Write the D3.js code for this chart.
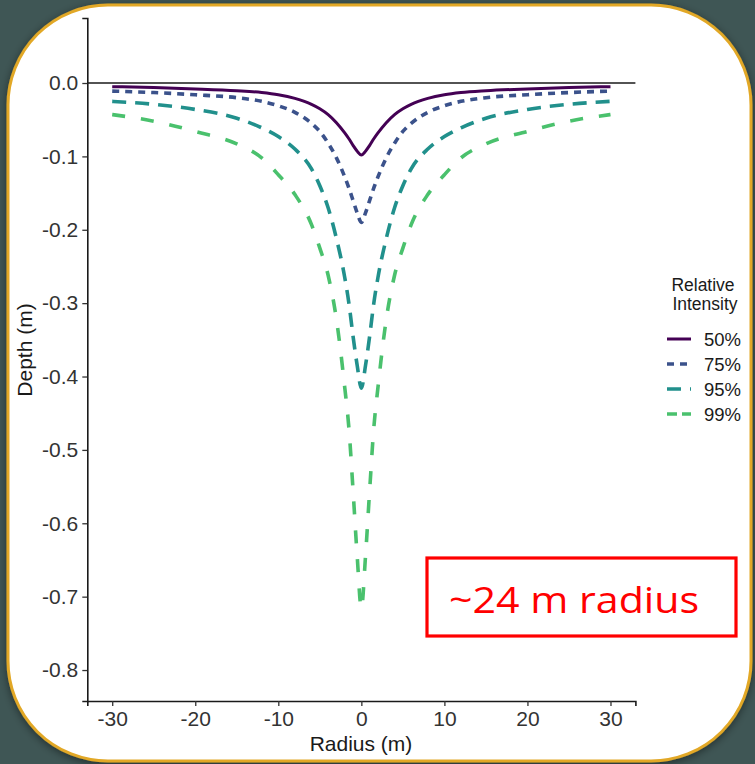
<!DOCTYPE html>
<html>
<head>
<meta charset="utf-8">
<script src="https://cdn.jsdelivr.net/npm/d3@7"></script>
<style>
  html, body { margin: 0; padding: 0; background: #3f5655; }
  svg { display: block; }
</style>
</head>
<body>
<svg id="chart" width="755" height="764"></svg>
<script>
// ---- data ----
const radius = [-30,-25,-20,-15,-12,-10,-8,-6,-5,-4,-3,-2,-1.5,-1,-0.5,0,0.5,1,1.5,2,3,4,5,6,8,10,12,15,20,25,30];
const depth50 = [-0.005,-0.0062,-0.008,-0.0105,-0.013,-0.016,-0.021,-0.029,-0.035,-0.043,-0.054,-0.068,-0.076,-0.085,-0.093,-0.098,-0.093,-0.085,-0.076,-0.068,-0.054,-0.043,-0.035,-0.029,-0.021,-0.016,-0.013,-0.0105,-0.008,-0.0062,-0.005];
const depth75 = [-0.011,-0.013,-0.016,-0.020,-0.025,-0.031,-0.040,-0.055,-0.066,-0.082,-0.102,-0.128,-0.143,-0.160,-0.177,-0.190,-0.177,-0.160,-0.143,-0.128,-0.102,-0.082,-0.066,-0.055,-0.040,-0.031,-0.025,-0.020,-0.016,-0.013,-0.011];
const depth95 = [-0.025,-0.029,-0.036,-0.048,-0.061,-0.073,-0.090,-0.117,-0.140,-0.170,-0.212,-0.265,-0.300,-0.345,-0.385,-0.416,-0.385,-0.345,-0.300,-0.265,-0.212,-0.170,-0.140,-0.117,-0.090,-0.073,-0.061,-0.048,-0.036,-0.029,-0.025];
const depth99 = [-0.043,-0.052,-0.066,-0.083,-0.102,-0.125,-0.152,-0.193,-0.225,-0.262,-0.322,-0.415,-0.470,-0.555,-0.645,-0.716,-0.645,-0.555,-0.470,-0.415,-0.322,-0.262,-0.225,-0.193,-0.152,-0.125,-0.102,-0.083,-0.066,-0.052,-0.043];
const seriesNames = ["50%","75%","95%","99%"];
const xTicks = [-30,-20,-10,0,10,20,30];
const yTicks = [0.0,-0.1,-0.2,-0.3,-0.4,-0.5,-0.6,-0.7,-0.8];

const seriesValues = [depth50, depth75, depth95, depth99];
const colors = ["#440154", "#3b528b", "#21908c", "#4ac16d"];
const widths = [3, 3.6, 3.6, 3.6];
const dashes = [null, "7,6", "14,9", "13,16"];
const legendDashes = [null, "7,6", "14,9", "10,5"];

const svg = d3.select("#chart");

// drop shadow
const defs = svg.append("defs");
const f = defs.append("filter").attr("id","sh").attr("x","-10%").attr("y","-10%").attr("width","120%").attr("height","120%");
f.append("feDropShadow").attr("dx",0).attr("dy",2).attr("stdDeviation",4).attr("flood-color","#000").attr("flood-opacity",0.45);

// card
svg.append("rect")
  .attr("x", 8).attr("y", 5).attr("width", 743).attr("height", 756)
  .attr("rx", 100).attr("ry", 100)
  .attr("fill", "#ffffff").attr("stroke", "#e2a826").attr("stroke-width", 3)
  .attr("filter", "url(#sh)");

const x = d3.scaleLinear().domain([-33, 33]).range([87.3, 635.4]);
const y = d3.scaleLinear().domain([-0.8422, 0.0886]).range([701, 18]);

const font = "'Liberation Sans', Arial, sans-serif";
const hy = s => s.replace(/\u2212/g, "-");

// zero line
svg.append("line")
  .attr("x1", x(-33)).attr("x2", x(33)).attr("y1", y(0)).attr("y2", y(0))
  .attr("stroke", "#1a1a1a").attr("stroke-width", 1.6);

// curves
const line = d3.line().x((d, i) => x(radius[i])).y(d => y(d)).curve(d3.curveMonotoneX);
seriesValues.forEach((vals, k) => {
  svg.append("path")
    .attr("d", line(vals))
    .attr("fill", "none")
    .attr("stroke", colors[k])
    .attr("stroke-width", widths[k])
    .attr("stroke-dasharray", dashes[k])
    .attr("stroke-linejoin", "round");
});

// axes
const xAxis = svg.append("g").attr("transform", `translate(0,701)`)
  .call(d3.axisBottom(x).tickValues(xTicks).tickSize(5).tickPadding(4).tickFormat(d => hy(d3.format("d")(d))));
const yAxis = svg.append("g").attr("transform", `translate(87.3,0)`)
  .call(d3.axisLeft(y).tickValues(yTicks).tickSize(5).tickPadding(4).tickFormat(d => d === 0 ? "0.0" : hy(d3.format(".1f")(d))));
[xAxis, yAxis].forEach(g => {
  g.select(".domain").attr("stroke", "#1a1a1a").attr("stroke-width", 1.6);
  g.selectAll(".tick line").attr("stroke", "#333").attr("stroke-width", 1.3);
  g.selectAll(".tick text").attr("fill", "#333").style("font-family", font).style("font-size", "21px");
});
xAxis.selectAll(".tick text").attr("dy", "0.78em");

// axis titles
svg.append("text").attr("x", 361).attr("y", 751).attr("text-anchor", "middle")
  .style("font-family", font).style("font-size", "21px").attr("fill", "#1a1a1a").text("Radius (m)");
svg.append("text").attr("transform", "translate(32,350) rotate(-90)").attr("text-anchor", "middle")
  .style("font-family", font).style("font-size", "21px").attr("fill", "#1a1a1a").text("Depth (m)");

// legend
const lg = svg.append("g");
lg.append("text").attr("x", 703).attr("y", 291).attr("text-anchor", "middle")
  .style("font-family", font).style("font-size", "17.5px").attr("fill", "#1a1a1a").text("Relative");
lg.append("text").attr("x", 705).attr("y", 310).attr("text-anchor", "middle")
  .style("font-family", font).style("font-size", "17.5px").attr("fill", "#1a1a1a").text("Intensity");
seriesNames.forEach((name, k) => {
  const cy = 339 + k * 25;
  lg.append("line").attr("x1", 667).attr("x2", 691).attr("y1", cy).attr("y2", cy)
    .attr("stroke", colors[k]).attr("stroke-width", widths[k]).attr("stroke-dasharray", legendDashes[k]);
  lg.append("text").attr("x", 704).attr("y", cy).attr("dy", "0.36em")
    .style("font-family", font).style("font-size", "18.5px").attr("fill", "#1a1a1a").text(name);
});

// annotation box
svg.append("rect").attr("x", 427).attr("y", 558).attr("width", 309).attr("height", 78)
  .attr("fill", "none").attr("stroke", "#ff0000").attr("stroke-width", 3.2);
svg.append("text").attr("x", 449).attr("y", 613)
  .attr("textLength", 250).attr("lengthAdjust", "spacingAndGlyphs")
  .style("font-family", "'Open Sans', 'Noto Sans', sans-serif").style("font-size", "36px").style("font-weight", 400)
  .attr("fill", "#ff0000").text("~24 m radius");
</script>
</body>
</html>
